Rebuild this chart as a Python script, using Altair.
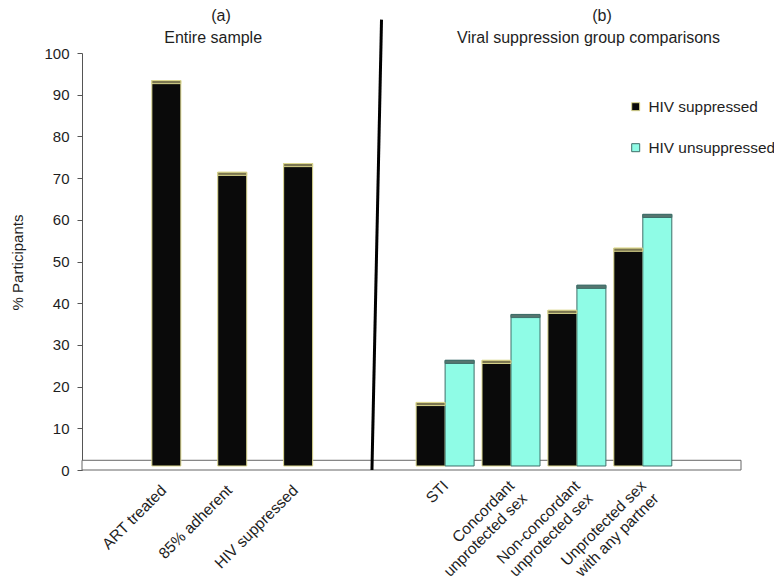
import altair as alt
import pandas as pd

# ---------------- data ----------------
entire_labels = ["ART treated", "85% adherent", "HIV suppressed"]
entire_values = [93.4, 71.4, 73.5]

group_labels = ["STI", "Concordant\nunprotected sex", "Non-concordant\nunprotected sex",
                "Unprotected sex\nwith any partner"]
suppressed_values = [16.2, 26.3, 38.3, 53.2]
unsuppressed_values = [26.3, 37.3, 44.3, 61.3]

series_names = ["HIV suppressed", "HIV unsuppressed"]
panel_tags = ["(a)", "(b)"]
panel_titles = ["Entire sample", "Viral suppression group comparisons"]
y_title = "% Participants"
y_ticks = list(range(0, 101, 10))

# ---------------- layout / style constants ----------------
FONT = "Liberation Sans"
TXT = "#1e1e1e"
X_DOMAIN = [0, 10]
LEFT_START, RIGHT_START = 1.28, 5.51
BAR_W = 0.44
BAR_BASE = 0.96
STRIP = 0.75
FLOOR_TOP = 2.33
FILL = ["#0a0a0a", "#8ffce6"]
EDGE = ["#dcd88e", "#3f6e69"]
TOPC = ["#7b7650", "#56756f"]

W, H = 659, 417

xs = alt.Scale(domain=X_DOMAIN, nice=False, zero=False)
ys = alt.Scale(domain=[0, 100], nice=False)

# ---------------- tables ----------------
left = pd.DataFrame({
    "label": entire_labels,
    "center": [LEFT_START + i for i in range(len(entire_labels))],
    "value": entire_values,
})
left["x0"] = left["center"] - BAR_W / 2
left["x1"] = left["center"] + BAR_W / 2
left["base"] = BAR_BASE
left["strip"] = left["value"] - STRIP

rows = []
for i, lab in enumerate(group_labels):
    c = RIGHT_START + i
    for s, vals in enumerate([suppressed_values, unsuppressed_values]):
        x0 = c - BAR_W if s == 0 else c
        rows.append({"label": lab, "series": series_names[s], "x0": x0, "x1": x0 + BAR_W,
                     "base": BAR_BASE, "value": vals[i], "strip": vals[i] - STRIP,
                     "topc": TOPC[s], "edge": EDGE[s]})
right = pd.DataFrame(rows)

floor = pd.DataFrame({"x0": [X_DOMAIN[0]], "x1": [X_DOMAIN[1]], "y0": [0], "y1": [FLOOR_TOP]})
divider = pd.DataFrame({"x": [4.545], "x2": [4.40], "y": [108], "y2": [0]})
titles = pd.DataFrame({
    "text": [panel_tags[0], panel_titles[0], panel_tags[1], panel_titles[1]],
    "x": [2.11, 1.99, 7.89, 7.686],
    "y": [108.9, 103.5, 108.9, 103.5],
})
xlabels = pd.DataFrame({
    "text": entire_labels + group_labels,
    "x": [LEFT_START + i - 0.04 for i in range(3)] + [RIGHT_START + i + 0.01 for i in range(4)],
    "y": [-4.3] * 3 + [-3.2] * 4,
})

# ---------------- layers ----------------
yaxis = alt.Axis(values=y_ticks, title=y_title, grid=False, domainColor="#555555",
                 tickColor="#555555", tickSize=5, labelFontSize=15, labelFont=FONT,
                 labelColor=TXT, labelPadding=8, titleFont=FONT, titleFontSize=15,
                 titleFontWeight="normal", titleColor=TXT, titleX=-65, titleY=209,
                 titleBaseline="middle", titleAlign="center", titleAngle=270)

floor_l = alt.Chart(floor).mark_rect(fill="white", stroke="#666666", strokeWidth=1).encode(
    x=alt.X("x0:Q", scale=xs, axis=None), x2="x1:Q",
    y=alt.Y("y0:Q", scale=ys, axis=yaxis), y2="y1:Q")

left_bars = alt.Chart(left).mark_rect(fill=FILL[0], stroke=EDGE[0], strokeWidth=1).encode(
    x=alt.X("x0:Q", scale=xs, axis=None), x2="x1:Q",
    y=alt.Y("base:Q", scale=ys), y2="value:Q")
left_top = alt.Chart(left).mark_rect(fill=TOPC[0], stroke=EDGE[0], strokeWidth=1).encode(
    x=alt.X("x0:Q", scale=xs, axis=None), x2="x1:Q",
    y=alt.Y("strip:Q", scale=ys), y2="value:Q")

leg = alt.Legend(title=None, orient="none", legendX=546, legendY=46, symbolType="square",
                 symbolSize=64, symbolStrokeWidth=1, labelFont=FONT, labelFontSize=15.4,
                 labelColor=TXT, labelOffset=5, rowPadding=24, padding=0)
right_bars = alt.Chart(right).mark_rect(strokeWidth=1).encode(
    x=alt.X("x0:Q", scale=xs, axis=None), x2="x1:Q",
    y=alt.Y("base:Q", scale=ys), y2="value:Q",
    fill=alt.Fill("series:N", scale=alt.Scale(domain=series_names, range=FILL), legend=leg),
    stroke=alt.Stroke("series:N", scale=alt.Scale(domain=series_names, range=EDGE), legend=leg))
right_top = alt.Chart(right).mark_rect(strokeWidth=1).encode(
    x=alt.X("x0:Q", scale=xs, axis=None), x2="x1:Q",
    y=alt.Y("strip:Q", scale=ys), y2="value:Q",
    fill=alt.Fill("topc:N", scale=None), stroke=alt.Stroke("edge:N", scale=None))

div_l = alt.Chart(divider).mark_rule(color="black", strokeWidth=3).encode(
    x=alt.X("x:Q", scale=xs, axis=None), x2="x2:Q",
    y=alt.Y("y:Q", scale=ys), y2="y2:Q")

title_l = alt.Chart(titles).mark_text(font=FONT, fontSize=16, color=TXT, baseline="middle",
                                      align="center").encode(
    x=alt.X("x:Q", scale=xs, axis=None), y=alt.Y("y:Q", scale=ys), text="text:N")

xlab_l = alt.Chart(xlabels).mark_text(font=FONT, fontSize=15.5, color=TXT, angle=315,
                                      align="right", baseline="middle", lineBreak="\n",
                                      lineHeight=18).encode(
    x=alt.X("x:Q", scale=xs, axis=None), y=alt.Y("y:Q", scale=ys), text="text:N")

chart = alt.layer(floor_l, left_bars, left_top, right_bars, right_top, div_l, title_l, xlab_l).properties(
    width=W, height=H,
    autosize=alt.AutoSizeParams(type="none"),
    padding={"left": 74, "top": 45, "right": 33, "bottom": 109},
    background="white",
).configure_view(strokeWidth=0)

chart.save("out.html", embed_options={"renderer": "svg", "actions": False})
